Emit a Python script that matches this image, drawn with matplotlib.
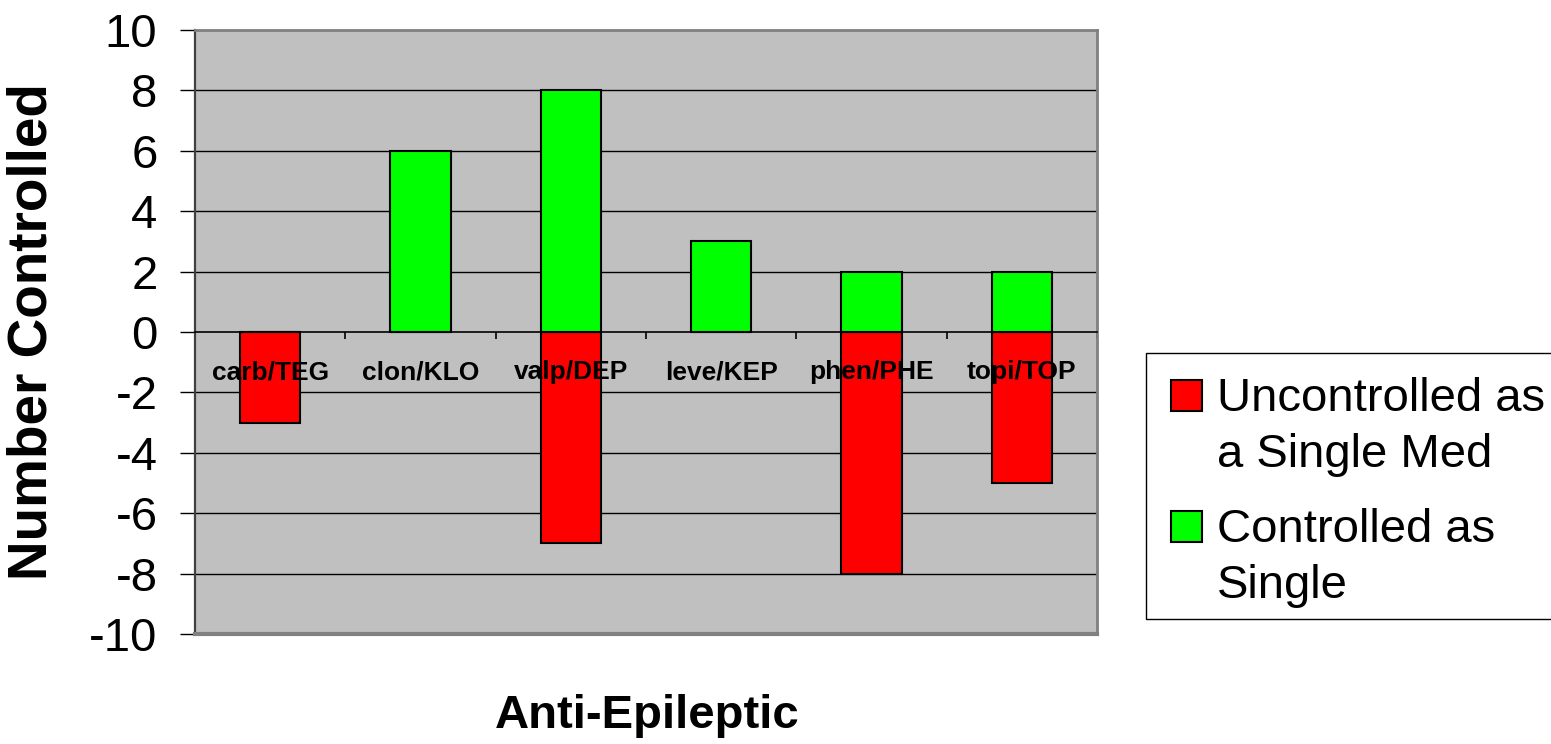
import matplotlib
matplotlib.use('agg')
import matplotlib.pyplot as plt
from matplotlib.patches import Rectangle
import numpy as np

plt.rcParams['font.family'] = ['Liberation Sans', 'DejaVu Sans']
plt.rcParams['axes.unicode_minus'] = False

# anti-epileptic drugs and patient counts
drugs = ['carb/TEG', 'clon/KLO', 'valp/DEP', 'leve/KEP', 'phen/PHE', 'topi/TOP']
uncontrolled = [-3, 0, -7, 0, -8, -5]
controlled = [0, 6, 8, 3, 2, 2]
y_ticks = [-10, -8, -6, -4, -2, 0, 2, 4, 6, 8, 10]
series_names = [['Uncontrolled as', 'a Single Med'], ['Controlled as', 'Single']]
series_colors = ['#FF0000', '#00FF00']

W, H = 1551, 744
fig = plt.figure(figsize=(W / 100, H / 100), dpi=100)
ax = fig.add_axes([195 / W, 1 - 634 / H, (1097 - 195) / W, (634 - 30) / H])
ax.set_facecolor('#C0C0C0')
ax.set_axisbelow(True)

x = np.arange(len(drugs))
ax.bar(x, uncontrolled, width=0.4, color=series_colors[0], edgecolor='black',
       linewidth=1.5, zorder=2)
ax.bar(x, controlled, width=0.4, color=series_colors[1], edgecolor='black',
       linewidth=1.5, zorder=2)

ax.set_xlim(-0.5, len(drugs) - 0.5)
ax.set_ylim(-10, 10)
ax.set_yticks(y_ticks)
ax.set_yticklabels([str(v) for v in y_ticks], fontsize=34)
for v in y_ticks[1:-1]:
    if v != 0:
        ax.axhline(v, color='black', lw=1.0, zorder=1)

# category axis sits on the zero line
ax.spines['bottom'].set_position(('data', 0))
ax.spines['bottom'].set_color('black')
ax.spines['bottom'].set_linewidth(1.2)
ax.spines['bottom'].set_zorder(3)
ax.set_xticks(np.arange(len(drugs) + 1) - 0.5)
ax.set_xticklabels([])
ax.tick_params(axis='x', direction='out', length=5, width=1.2, color='black')
ax.tick_params(axis='y', direction='out', length=11, width=1.0, pad=16)
ax.spines['left'].set_color('#404040')
ax.spines['left'].set_linewidth(1.6)
for s in ('top', 'right'):
    ax.spines[s].set_color('#808080')
    ax.spines[s].set_linewidth(2)
ax.axhline(-10, color='#808080', lw=3, clip_on=False, zorder=3)

for i, name in enumerate(drugs):
    ax.text(i, -1.33, name, ha='center', va='center', fontsize=19,
            fontweight='bold', zorder=4)

ax.set_ylabel('Number Controlled', fontsize=39.5, fontweight='bold', labelpad=22)
fig.text(647 / W, 1 - 716 / H, 'Anti-Epileptic', ha='center',
         va='center', fontsize=34, fontweight='bold')

# legend box, with each label wrapped onto two lines
fig.patches.append(Rectangle((1146 / W, 1 - 619 / H), (W + 5 - 1146) / W, (619 - 353) / H,
                             transform=fig.transFigure, facecolor='white',
                             edgecolor='black', lw=1.0))
box_tops = [380, 511]
for top, lines, color in zip(box_tops, series_names, series_colors):
    fig.patches.append(Rectangle((1171 / W, 1 - (top + 31) / H), 31 / W, 31 / H,
                                 transform=fig.transFigure, facecolor=color,
                                 edgecolor='black', lw=1.5))
    for k, line in enumerate(lines):
        fig.text(1217 / W, 1 - (top + 31 + 56 * k) / H, line, ha='left',
                 va='baseline', fontsize=34)

fig.savefig('out.png', dpi=100, facecolor='white')
